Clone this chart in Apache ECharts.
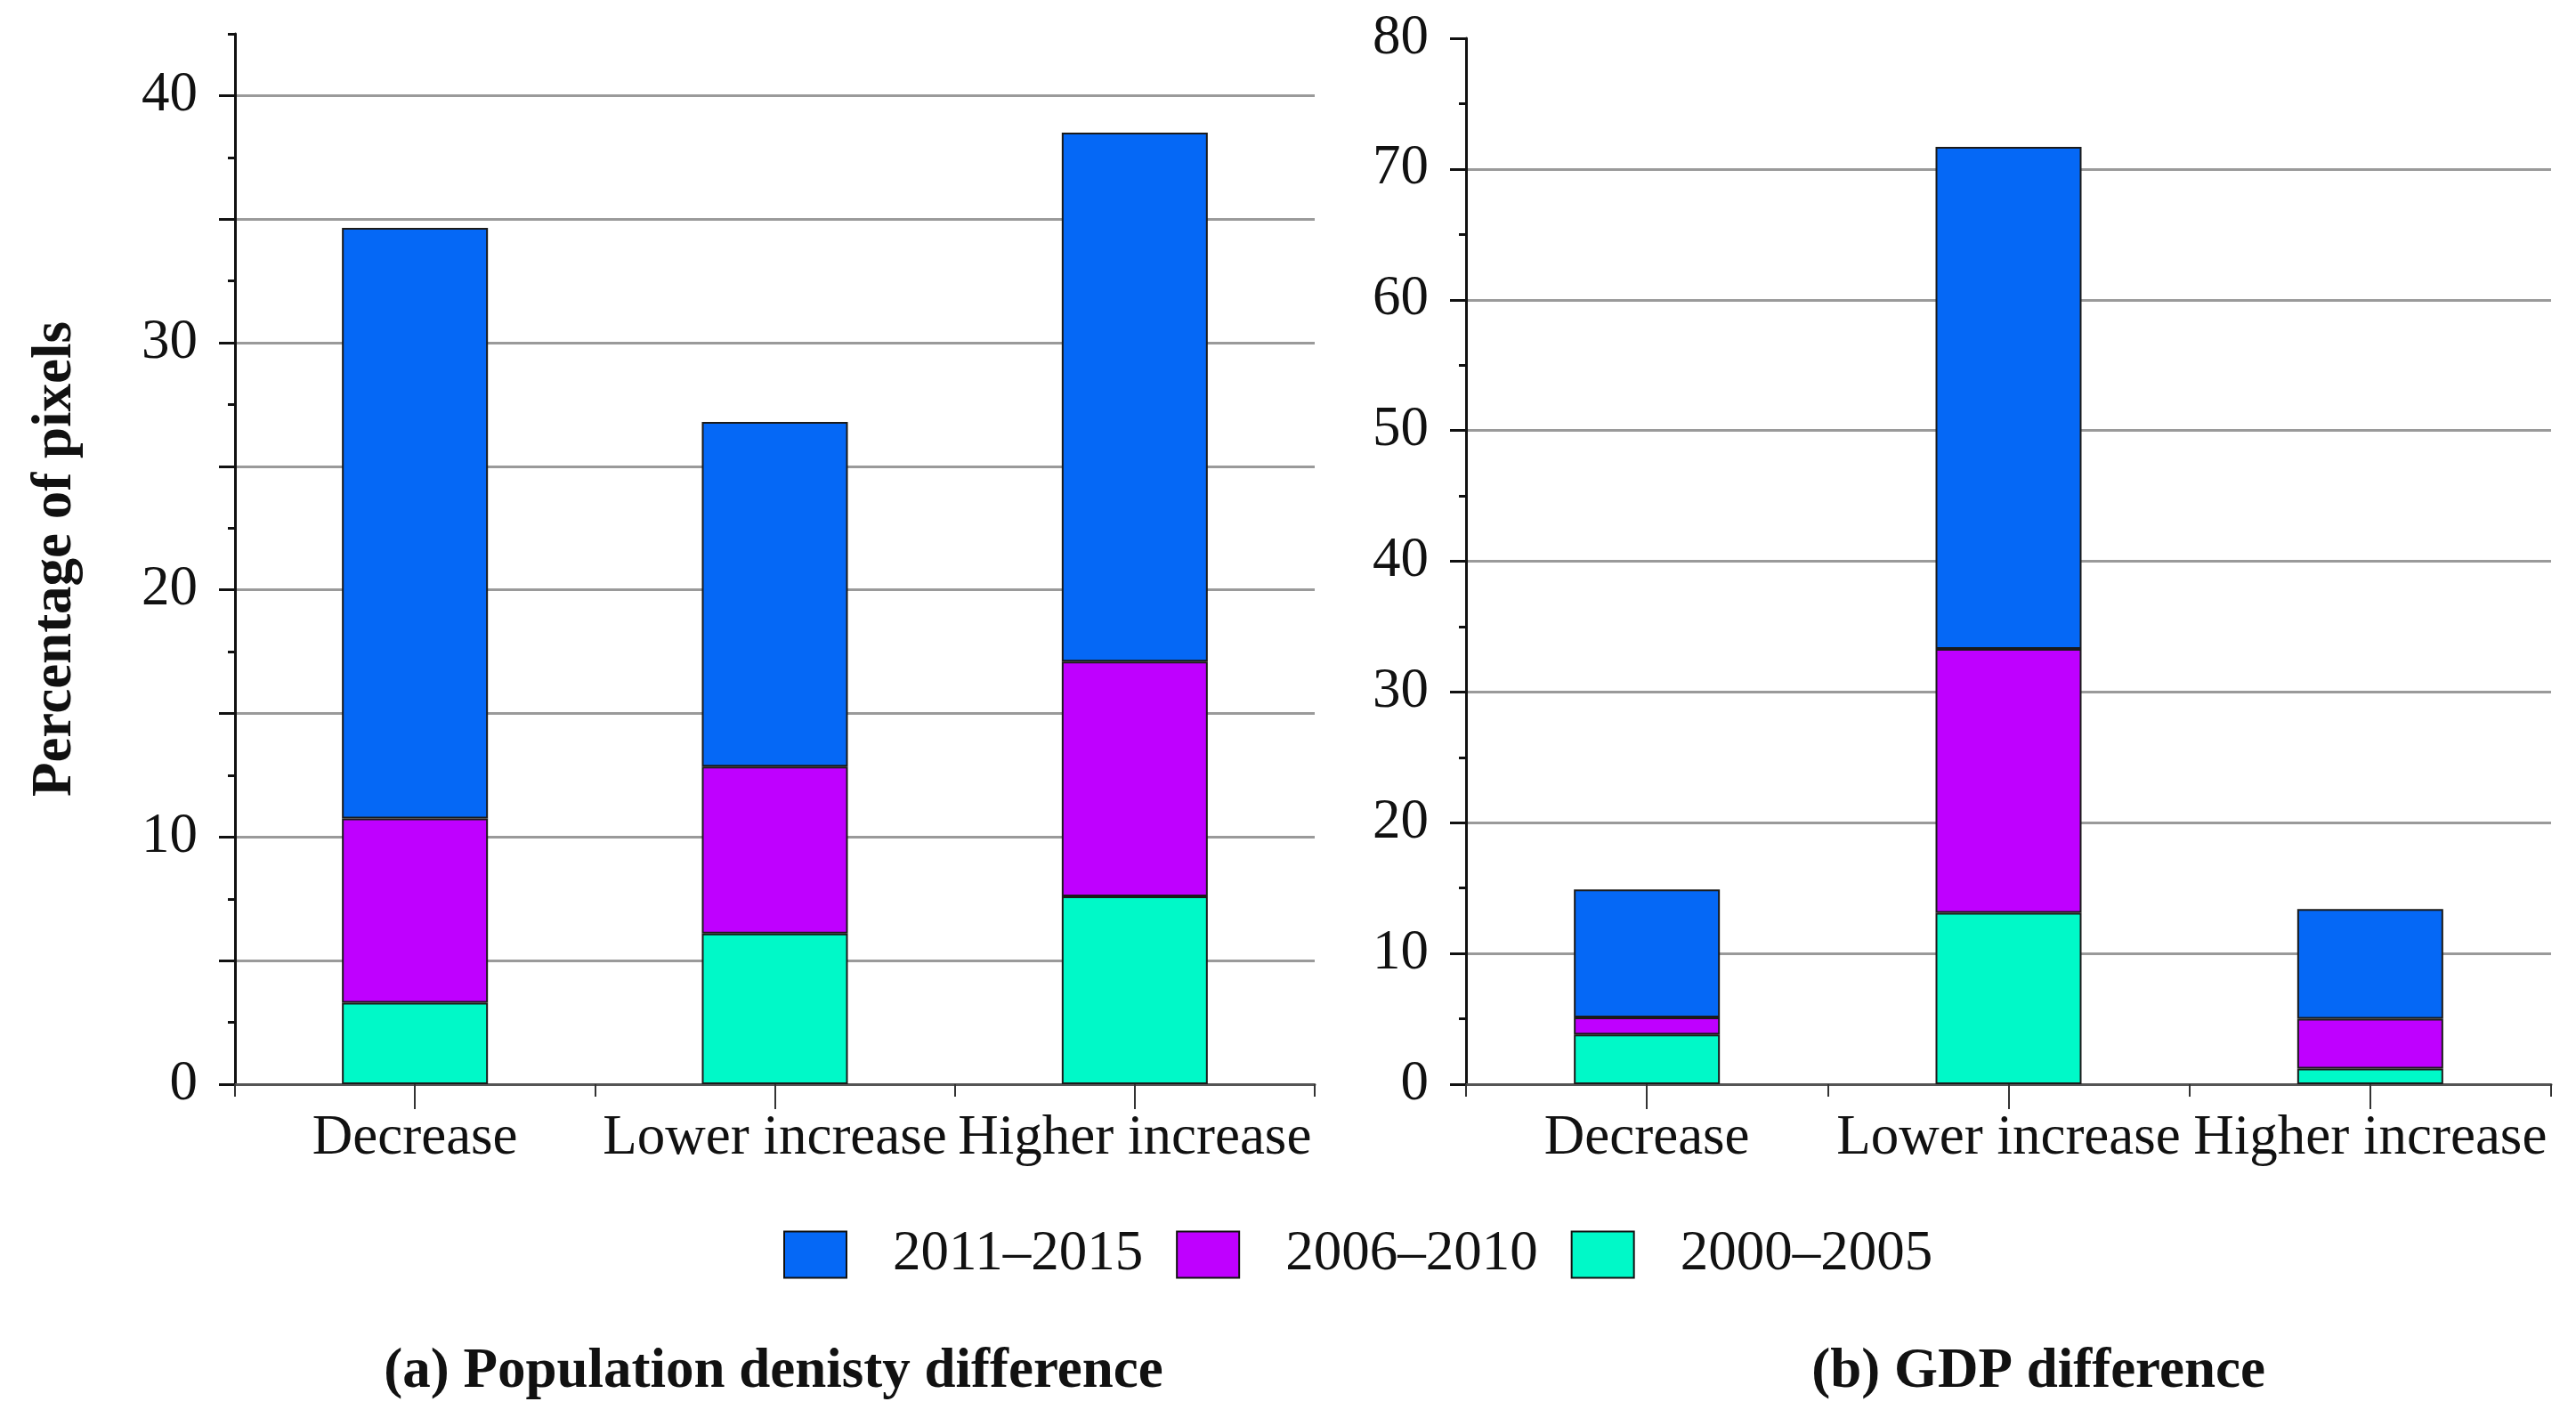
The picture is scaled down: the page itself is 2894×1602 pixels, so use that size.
<!DOCTYPE html>
<html><head><meta charset="utf-8">
<script src="https://cdn.jsdelivr.net/npm/echarts@6/dist/echarts.min.js"></script>
<style>html,body{margin:0;padding:0;background:#fff}#c{width:2894px;height:1602px}</style>
</head><body><div id="c"></div>
<script>
const categories = ['Decrease', 'Lower increase', 'Higher increase'];
const periods = ['2000–2005', '2006–2010', '2011–2015'];
const legendOrder = ['2011–2015', '2006–2010', '2000–2005'];
// (a) Population density difference – segment values per period
const pop2000 = [3.3, 6.1, 7.6];
const pop2006 = [7.45, 6.75, 9.5];
const pop2011 = [23.9, 13.95, 21.4];
// (b) GDP difference – segment values per period
const gdp2000 = [3.8, 13.1, 1.2];
const gdp2006 = [1.3, 20.2, 3.8];
const gdp2011 = [9.8, 38.4, 8.4];
// tick labels / values
const popTickValues = [0, 5, 10, 15, 20, 25, 30, 35, 40];
const popTickLabels = [0, 10, 20, 30, 40];
const gdpTickLabels = [0, 10, 20, 30, 40, 50, 60, 70, 80];

const colors = ['#00F9C8', '#BF00FF', '#0568F6'];
const FONT = "'Liberation Serif', 'Times New Roman', 'DejaVu Serif', serif";
const FS = 63;

const chart = echarts.init(document.getElementById('c'), null, {renderer: 'canvas'});

function catAxes(gi) {
  return [
    {
      gridIndex: gi, type: 'category', data: categories, position: 'bottom',
      axisLine: {show: true, lineStyle: {color: '#555', width: 3}},
      axisTick: {show: true, length: 14, lineStyle: {color: '#333', width: 2}},
      axisLabel: {fontFamily: FONT, fontSize: FS, color: '#111', margin: 30, interval: 0},
      splitLine: {show: false}
    },
    {
      gridIndex: gi, type: 'category', data: categories, position: 'bottom',
      axisLine: {show: false},
      axisTick: {show: true, alignWithLabel: true, length: 28, lineStyle: {color: '#333', width: 2}},
      axisLabel: {show: false},
      splitLine: {show: false}
    }
  ];
}

const seriesData = [
  [pop2000, pop2006, pop2011],
  [gdp2000, gdp2006, gdp2011]
];

const series = [];
[0, 1].forEach(function (gi) {
  periods.forEach(function (p, k) {
    series.push({
      name: p, type: 'bar', stack: 's' + gi,
      xAxisIndex: gi * 2, yAxisIndex: gi === 0 ? 0 : 2,
      data: seriesData[gi][k], barWidth: 164,
      itemStyle: {color: colors[k], borderColor: '#1a1a1a', borderWidth: 2},
      emphasis: {disabled: true}
    });
  });
});

const option = {
  animation: false,
  backgroundColor: '#fff',
  textStyle: {fontFamily: FONT},
  grid: [
    {left: 264, top: 38, width: 1213, height: 1180},
    {left: 1647, top: 43, width: 1219, height: 1175}
  ],
  xAxis: catAxes(0).concat(catAxes(1)),
  yAxis: [
    {
      gridIndex: 0, type: 'value', min: 0, max: 42.5, interval: 5, position: 'left',
      name: 'Percentage of pixels', nameLocation: 'middle', nameGap: 170,
      nameTextStyle: {fontFamily: FONT, fontSize: FS, fontWeight: 'bold', color: '#111'},
      axisLine: {show: true, lineStyle: {color: '#111', width: 3}},
      axisTick: {show: true, length: 18, customValues: popTickValues, lineStyle: {color: '#111', width: 3}},
      axisLabel: {customValues: popTickLabels, fontFamily: FONT, fontSize: FS, color: '#111', margin: 42},
      splitLine: {show: true, showMaxLine: true, lineStyle: {color: '#9a9a9a', width: 3}}
    },
    {
      gridIndex: 0, type: 'value', min: 0, max: 42.5, interval: 2.5, position: 'left',
      axisLine: {show: false},
      axisTick: {show: true, length: 8, lineStyle: {color: '#111', width: 3}},
      axisLabel: {show: false},
      splitLine: {show: false}
    },
    {
      gridIndex: 1, type: 'value', min: 0, max: 80, interval: 10, position: 'left',
      axisLine: {show: true, lineStyle: {color: '#111', width: 3}},
      axisTick: {show: true, length: 18, lineStyle: {color: '#111', width: 3}},
      minorTick: {show: true, splitNumber: 2, length: 8, lineStyle: {color: '#111', width: 3}},
      axisLabel: {customValues: gdpTickLabels, fontFamily: FONT, fontSize: FS, color: '#111', margin: 42},
      splitLine: {show: true, showMaxLine: false, lineStyle: {color: '#9a9a9a', width: 3}},
      minorSplitLine: {show: false}
    }
  ],
  legend: {
    data: legendOrder, left: 875, top: 1373,
    itemWidth: 70, itemHeight: 52, itemGap: 37, icon: 'rect',
    itemStyle: {borderColor: '#111', borderWidth: 2},
    textStyle: {fontFamily: FONT, fontSize: FS, color: '#111', padding: [0, 0, 0, 47]},
    selectedMode: false
  },
  title: [
    {text: '(a) Population denisty difference', left: 864, top: 1505, textAlign: 'center',
     textStyle: {fontFamily: FONT, fontSize: FS, fontWeight: 'bold', color: '#111'}},
    {text: '(b) GDP difference', left: 2285, top: 1505, textAlign: 'center',
     textStyle: {fontFamily: FONT, fontSize: FS, fontWeight: 'bold', color: '#111'}}
  ],
  series: series
};
chart.setOption(option);
</script>
</body></html>
